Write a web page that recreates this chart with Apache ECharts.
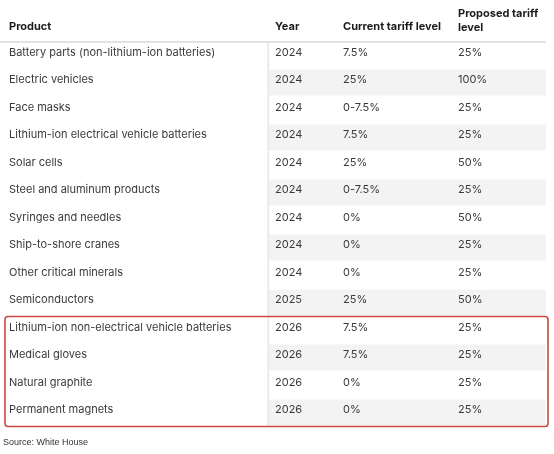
<!DOCTYPE html>
<html><head><meta charset="utf-8">
<script src="https://cdn.jsdelivr.net/npm/echarts@6/dist/echarts.min.js"></script>
<style>html,body{margin:0;padding:0;background:#fff}#c{width:554px;height:454px}</style>
</head><body><div id="c"></div>
<script>
const headers = ['Product', 'Year', 'Current tariff level', 'Proposed tariff\nlevel'];
const products = [
  'Battery parts (non-lithium-ion batteries)',
  'Electric vehicles',
  'Face masks',
  'Lithium-ion electrical vehicle batteries',
  'Solar cells',
  'Steel and aluminum products',
  'Syringes and needles',
  'Ship-to-shore cranes',
  'Other critical minerals',
  'Semiconductors',
  'Lithium-ion non-electrical vehicle batteries',
  'Medical gloves',
  'Natural graphite',
  'Permanent magnets'
];
const years = [2024, 2024, 2024, 2024, 2024, 2024, 2024, 2024, 2024, 2025, 2026, 2026, 2026, 2026];
const currentTariff = ['7.5%', '25%', '0-7.5%', '7.5%', '25%', '0-7.5%', '0%', '0%', '0%', '25%', '7.5%', '7.5%', '0%', '0%'];
const proposedTariff = ['25%', '100%', '25%', '25%', '50%', '25%', '50%', '25%', '25%', '50%', '25%', '25%', '25%', '25%'];
const highlightYear = 2026;
const sourceText = 'Source: White House';

// layout (x positions in axis units = pixels)
const colX = [9, 275, 343, 458];
const FONT = 'Inter, "Noto Sans", sans-serif';

const rowIdx = products.map((_, i) => i);
const hlRows = rowIdx.filter(i => years[i] === highlightYear);

const chart = echarts.init(document.getElementById('c'), null, {renderer: 'canvas'});
chart.setOption({
  animation: false,
  backgroundColor: '#fff',
  grid: {left: 0, right: 0, top: 41.5, height: 385, containLabel: false},
  xAxis: {type: 'value', min: 0, max: 554, show: false},
  yAxis: {type: 'category', data: rowIdx.map(String), inverse: true, show: false},
  graphic: [
    {type: 'rect', shape: {x: 0, y: 41, width: 546, height: 2}, style: {fill: '#e2e2e2'}, z: 10},
    {type: 'text', x: colX[0], y: 26.5, style: {text: headers[0], font: 'bold 11px ' + FONT, fill: '#1c1c1c', verticalAlign: 'middle'}},
    {type: 'text', x: colX[1], y: 26.5, style: {text: headers[1], font: 'bold 11px ' + FONT, fill: '#1c1c1c', verticalAlign: 'middle'}},
    {type: 'text', x: colX[2], y: 26.5, style: {text: headers[2], font: 'bold 11px ' + FONT, fill: '#1c1c1c', verticalAlign: 'middle'}},
    {type: 'text', x: colX[3], y: 20.5, style: {text: headers[3], font: 'bold 11px ' + FONT, fill: '#1c1c1c', verticalAlign: 'middle', lineHeight: 14}},
    {type: 'text', x: 3, y: 443, style: {text: sourceText, font: '9px "Liberation Sans", Arial, sans-serif', fill: '#333', verticalAlign: 'middle'}}
  ],
  series: [
    {
      type: 'custom',
      data: rowIdx.map(i => [i]),
      renderItem: function (params, api) {
        const i = api.value(0);
        const c = api.coord([0, i]);
        const h = api.size([0, 1])[1];
        const top = c[1] - h / 2;
        const cy = c[1] - 3;
        const x1 = api.coord([269, i])[0];
        const x2 = api.coord([546, i])[0];
        const children = [];
        if (i % 2 === 1) {
          children.push({type: 'rect', shape: {x: x1, y: top + 0.5, width: x2 - x1, height: h - 1.5}, style: {fill: '#f3f3f3'}});
        }
        children.push({type: 'rect', shape: {x: api.coord([267.5, i])[0], y: top, width: 1.5, height: h}, style: {fill: '#e6e6e6'}});
        const vals = [products[i], String(years[i]), currentTariff[i], proposedTariff[i]];
        vals.forEach((v, k) => {
          children.push({type: 'text', x: api.coord([colX[k], i])[0], y: cy,
            style: {text: v, font: '11px ' + FONT, fill: '#3a3a3a', verticalAlign: 'middle'}});
        });
        return {type: 'group', children: children};
      }
    },
    {
      type: 'custom',
      data: [[hlRows[0], hlRows[hlRows.length - 1]]],
      z: 5,
      renderItem: function (params, api) {
        const a = api.value(0), b = api.value(1);
        const h = api.size([0, 1])[1];
        const yt = api.coord([0, a])[1] - h / 2;
        const yb = api.coord([0, b])[1] + h / 2;
        const xl = api.coord([5, a])[0];
        const xr = api.coord([548, a])[0];
        return {type: 'rect', shape: {x: xl, y: yt, width: xr - xl, height: yb - yt, r: 3},
          style: {fill: null, stroke: '#c94a43', lineWidth: 1.6}};
      }
    }
  ]
});
</script></body></html>
